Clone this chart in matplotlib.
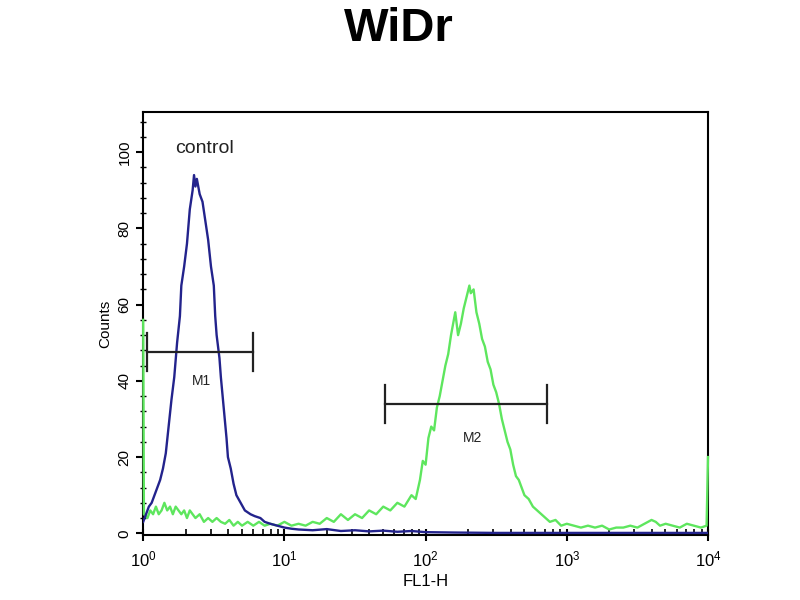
import matplotlib
matplotlib.use("Agg")
import matplotlib.pyplot as plt
import numpy as np
from matplotlib.ticker import LogLocator, MultipleLocator

plt.rcParams.update({
    "font.family": ["Liberation Sans", "DejaVu Sans"],
    "font.size": 11,
})

# control histogram (positions in log10 decades of FL1-H, counts)
blue_dec = [0.00, 0.02, 0.04, 0.06, 0.08, 0.10, 0.12, 0.14, 0.16, 0.18, 0.20, 0.22,
            0.24, 0.26, 0.27, 0.29, 0.31, 0.33, 0.35, 0.36, 0.37, 0.38, 0.40, 0.42,
            0.44, 0.46, 0.48, 0.50, 0.51, 0.52, 0.54, 0.55, 0.57, 0.59, 0.60, 0.62,
            0.64, 0.66, 0.69, 0.72, 0.76, 0.79, 0.83, 0.86, 0.90, 0.95, 1.00, 1.05,
            1.10, 1.20, 1.30, 1.40, 1.50, 1.60, 1.70, 1.80, 1.90, 2.00, 2.20, 2.50,
            3.00, 3.50, 4.00]
blue_cnt = [3, 5, 7, 8, 10, 12, 14, 17, 21, 28, 35, 41,
            50, 57, 65, 70, 76, 85, 90, 94, 91, 93, 89, 87,
            82, 77, 70, 65, 57, 52, 46, 41, 33, 25, 20, 17,
            13, 10, 8, 6, 5, 4.5, 4, 3, 2.5, 2, 1.5, 1.2,
            1.0, 0.8, 1.1, 0.6, 0.8, 0.5, 0.7, 0.4, 0.6, 0.3, 0.2, 0.1,
            0.1, 0.1, 0.1]

# WiDr sample histogram
green_dec = [0.000, 0.005, 0.03, 0.05, 0.07, 0.09, 0.11, 0.13, 0.15, 0.17, 0.19, 0.21,
             0.23, 0.25, 0.27, 0.29, 0.31, 0.33, 0.35, 0.37, 0.40, 0.43, 0.46, 0.49,
             0.52, 0.55, 0.58, 0.61, 0.64, 0.67, 0.70, 0.74, 0.78, 0.82, 0.86, 0.90,
             0.95, 1.00, 1.05, 1.10, 1.15, 1.20, 1.25, 1.30, 1.35, 1.40, 1.45, 1.50,
             1.55, 1.60, 1.65, 1.70, 1.75, 1.80, 1.85, 1.90, 1.93, 1.96, 1.98, 2.00,
             2.02, 2.04, 2.06, 2.08, 2.10, 2.12, 2.14, 2.16, 2.18, 2.20, 2.21, 2.23,
             2.25, 2.27, 2.29, 2.31, 2.32, 2.34, 2.36, 2.38, 2.40, 2.42, 2.44, 2.46,
             2.48, 2.50, 2.52, 2.54, 2.56, 2.58, 2.60, 2.62, 2.64, 2.66, 2.68, 2.70,
             2.73, 2.76, 2.79, 2.82, 2.85, 2.88, 2.92, 2.96, 3.00, 3.05, 3.10, 3.15,
             3.20, 3.25, 3.30, 3.35, 3.40, 3.45, 3.50, 3.55, 3.60, 3.63, 3.66, 3.70,
             3.75, 3.80, 3.85, 3.90, 3.95, 3.99, 4.00]
green_cnt = [56, 5, 4, 6, 5, 7, 5, 6, 8, 6, 7, 5,
             7, 6, 5, 6, 4, 6, 5, 4, 5, 3, 4, 3,
             4, 3, 2.5, 3.5, 2, 3, 2, 3, 2, 3, 2, 2.5,
             2, 3, 2, 2.5, 2, 3, 2.5, 4, 3, 5, 3.5, 5,
             4, 6, 5, 7, 6, 8, 7, 10, 9, 14, 19, 18,
             25, 28, 27, 33, 36, 40, 44, 47, 52, 56, 58, 52,
             55, 59, 62, 65, 63, 64, 58, 55, 51, 49, 45, 43,
             39, 37, 34, 30, 27, 24, 22, 18, 15, 14, 12, 10,
             9, 7, 6, 5, 4, 3, 3.5, 2, 2.5, 2, 1.5, 2,
             1.5, 2, 1, 1.5, 1.5, 2, 1.5, 2.5, 3.5, 3, 2, 2.5,
             2, 1.5, 2.5, 2, 1.5, 2, 20]

# marker gates: (start, end, level, label, label_x, label_y)
m1 = (1.07, 6.0, 47.5, "M1", 2.6, 40)
m2 = (52, 724, 34, "M2", 214, 25)

fig = plt.figure(figsize=(8, 6), dpi=100)
ax = fig.add_axes([0.179, 0.108, 0.706, 0.705])

ax.plot(10 ** np.array(green_dec), green_cnt, color="#5ee65e", lw=1.7, zorder=3, clip_on=False)
ax.plot(10 ** np.array(blue_dec), blue_cnt, color="#23238c", lw=1.7, zorder=4)

for x0, x1, y, lab, lx, ly in (m1, m2):
    ax.plot([x0, x1], [y, y], color="#222222", lw=1.6, zorder=5)
    ax.plot([x0, x0], [y - 5, y + 5], color="#222222", lw=1.6, zorder=5)
    ax.plot([x1, x1], [y - 5, y + 5], color="#222222", lw=1.6, zorder=5)
    ax.text(lx, ly, lab, ha="center", va="center", fontsize=10, color="#222222")

ax.text(2.7, 101, "control", ha="center", va="center", fontsize=14, color="#222222")

ax.set_xscale("log")
ax.set_xlim(1, 1e4)
ax.set_ylim(-0.5, 110.5)
ax.xaxis.set_major_locator(LogLocator(base=10, numticks=10))
ax.xaxis.set_minor_locator(LogLocator(base=10, subs=np.arange(2, 10), numticks=10))
ax.yaxis.set_major_locator(MultipleLocator(20))
ax.yaxis.set_minor_locator(MultipleLocator(4))
ax.tick_params(axis="x", which="major", direction="inout", length=9, width=1.5, labelsize=12, pad=6)
ax.tick_params(axis="x", which="minor", direction="in", length=4, width=1.2)
ax.tick_params(axis="y", which="major", direction="out", length=5, width=1.5, labelsize=11)
ax.tick_params(axis="y", which="minor", direction="inout", length=4, width=1)
for t in ax.get_yticklabels():
    t.set_rotation(90)
    t.set_va("center")
for s in ax.spines.values():
    s.set_linewidth(1.5)

ax.set_ylabel("Counts", fontsize=11, labelpad=4)
ax.set_xlabel("FL1-H", fontsize=12, labelpad=3)

fig.text(0.498, 0.952, "WiDr", ha="center", va="center", fontsize=34, fontweight="bold")

fig.savefig("out.png", dpi=100)
